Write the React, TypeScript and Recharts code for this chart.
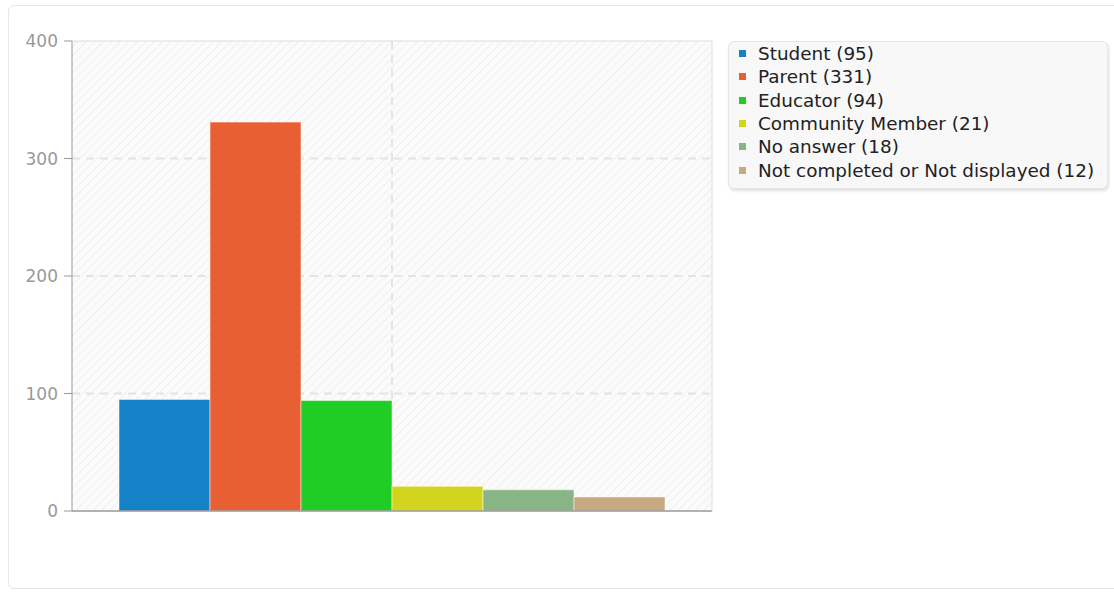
import React from 'react';
import {
  BarChart,
  Bar,
  XAxis,
  YAxis,
  CartesianGrid,
} from 'recharts';

const categories = ['Student', 'Parent', 'Educator', 'Community Member', 'No answer', 'Not completed or Not displayed'];
const counts = [95, 331, 94, 21, 18, 12];
const colors = ['#1582c8', '#e75f33', '#20cd25', '#d3d41d', '#88b584', '#c8a880'];
const yTicks = [0, 100, 200, 300, 400];
const yMax = 400;

const row: Record<string, number | string> = { name: '' };
categories.forEach((c, i) => {
  row[c] = counts[i];
});
const data = [row];

const font = '"DejaVu Sans", sans-serif';

function LegendBox() {
  return (
    <div
      style={{
        position: 'absolute',
        left: 728,
        top: 41,
        width: 380,
        height: 148,
        boxSizing: 'border-box',
        background: '#f8f8f8',
        border: '1px solid #e6e6e6',
        borderRadius: 6,
        boxShadow: '1px 2px 3px rgba(0,0,0,0.12)',
        padding: '0 0 0 10px',
        fontFamily: font,
        fontSize: 18.4,
        color: '#222',
      }}
    >
      {categories.map((c, i) => (
        <div key={c} style={{ display: 'flex', alignItems: 'center', height: 23.3 }}>
          <span style={{ display: 'inline-block', width: 7, height: 7, background: colors[i], marginRight: 12 }} />
          <span>{`${c} (${counts[i]})`}</span>
        </div>
      ))}
    </div>
  );
}

export default function App() {
  return (
    <div style={{ position: 'absolute', left: 0, top: 0, width: 1114, height: 592, background: '#fff', overflow: 'hidden' }}>
      <div
        style={{
          position: 'absolute',
          left: 8,
          top: 5,
          width: 1120,
          height: 584,
          border: '1px solid #e6e6e6',
          borderRadius: 6,
          boxSizing: 'border-box',
        }}
      />
      <div style={{ position: 'absolute', left: 0, top: 0 }}>
        <BarChart
          width={720}
          height={560}
          data={data}
          margin={{ top: 40, right: 7, left: 0, bottom: 48 }}
          barCategoryGap={47}
          barGap={0}
        >
          <defs>
            <pattern id="hatch" width="6" height="6" patternUnits="userSpaceOnUse" patternTransform="rotate(45)">
              <rect width="6" height="6" fill="#fbfbfb" />
              <line x1="0" y1="0" x2="0" y2="6" stroke="#efefef" strokeWidth="2" />
            </pattern>
          </defs>
          <CartesianGrid
            fill="url(#hatch)"
            stroke="#e4e4e4"
            strokeDasharray="8 6"
            strokeWidth={2}
            verticalCoordinatesGenerator={({ offset }: any) => [offset.left + offset.width / 2]}
            horizontalCoordinatesGenerator={({ offset }: any) =>
              yTicks.slice(1, -1).map((v) => offset.top + offset.height * (1 - v / yMax))
            }
          />
          <XAxis dataKey="name" height={1} tick={false} tickLine={false} axisLine={{ stroke: '#999', strokeWidth: 1.5 }} />
          <XAxis xAxisId="top" orientation="top" dataKey="name" height={1} tick={false} tickLine={false} axisLine={{ stroke: '#ddd' }} />
          <YAxis
            width={72}
            domain={[0, yMax]}
            ticks={yTicks}
            tickSize={8}
            tickMargin={6}
            axisLine={{ stroke: '#999' }}
            tickLine={{ stroke: '#999' }}
            tick={{ fill: '#999', fontSize: 17, fontFamily: font }}
          />
          <YAxis yAxisId="right" orientation="right" width={1} domain={[0, yMax]} tick={false} tickLine={false} axisLine={{ stroke: '#ddd' }} />
          {categories.map((c, i) => (
            <Bar
              key={c}
              dataKey={c}
              fill={colors[i]}
              stroke="#ffffff"
              strokeOpacity={0.5}
              strokeWidth={1}
              isAnimationActive={false}
            />
          ))}
        </BarChart>
      </div>
      <LegendBox />
    </div>
  );
}
